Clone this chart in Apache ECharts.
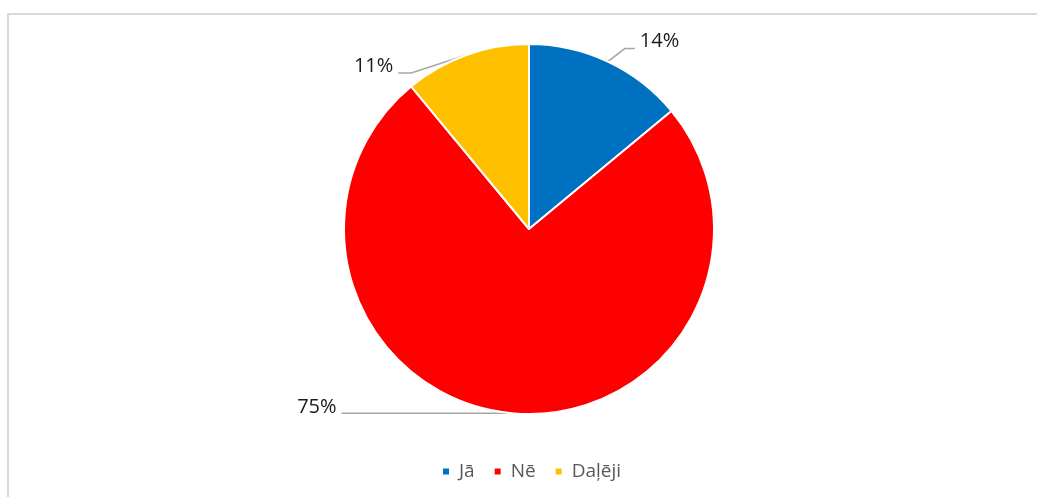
<!DOCTYPE html>
<html>
<head>
<meta charset="utf-8">
<script src="https://cdn.jsdelivr.net/npm/echarts@6/dist/echarts.min.js"></script>
<style>
  html, body { margin: 0; padding: 0; background: #ffffff; }
  #chart { width: 1037px; height: 497px; }
</style>
</head>
<body>
<div id="chart"></div>
<script>
// Survey answers (share of respondents, %)
const categories = ['Jā', 'Nē', 'Daļēji'];
const values = [14, 75, 11];
const colors = ['#0070C0', '#FF0000', '#FFC000'];

const chart = echarts.init(document.getElementById('chart'), null, { renderer: 'canvas' });

// Leader-line shapes per slice, relative to where the line leaves the slice edge
const leaderShapes = [
  { bends: [[17, -13], [27, -13]], label: [32, -20], align: 'left' },
  { bends: [[-170, 0]], label: [-175, -6], align: 'right' },
  { bends: [[-55, 18], [-68, 18]], label: [-73, 11], align: 'right' }
];

const option = {
  backgroundColor: '#ffffff',
  animation: false,
  graphic: [{
    type: 'rect',
    shape: { x: 8, y: 14, width: 1060, height: 520 },
    style: { fill: 'none', stroke: '#d9d9d9', lineWidth: 2 },
    silent: true,
    z: -1
  }],
  legend: {
    data: categories,
    left: 436,
    top: 457,
    icon: 'rect',
    itemWidth: 8,
    itemHeight: 8,
    itemGap: 18,
    textStyle: {
      fontFamily: 'Open Sans',
      fontSize: 19,
      color: '#595959',
      padding: [0, 0, 0, 4]
    }
  },
  series: [{
    type: 'pie',
    center: [529, 229],
    radius: 185,
    startAngle: 90,
    clockwise: true,
    avoidLabelOverlap: false,
    itemStyle: { borderColor: '#ffffff', borderWidth: 2 },
    label: {
      show: true,
      position: 'outside',
      formatter: '{c}%',
      fontFamily: 'Open Sans',
      fontSize: 20,
      color: '#1a1a1a'
    },
    labelLine: {
      show: true,
      length: 10,
      length2: 10,
      lineStyle: { color: '#a6a6a6', width: 1.5 }
    },
    labelLayout: function (params) {
      const shape = leaderShapes[params.dataIndex];
      const pts = params.labelLinePoints;
      if (!shape || !pts) return {};
      const p0 = pts[0];
      const line = [p0].concat(shape.bends.map(b => [p0[0] + b[0], p0[1] + b[1]]));
      return {
        x: p0[0] + shape.label[0],
        y: p0[1] + shape.label[1],
        align: shape.align,
        verticalAlign: 'middle',
        labelLinePoints: line
      };
    },
    emphasis: { disabled: true },
    data: categories.map((name, i) => ({
      name: name,
      value: values[i],
      itemStyle: { color: colors[i] }
    }))
  }]
};

chart.setOption(option);
</script>
</body>
</html>
